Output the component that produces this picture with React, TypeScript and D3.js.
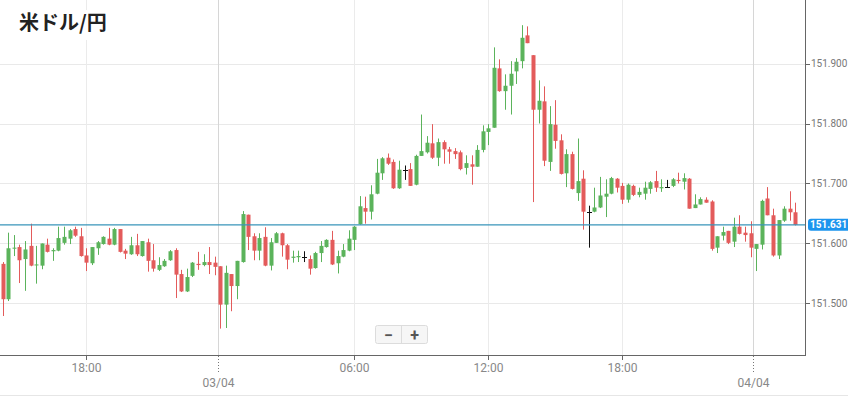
import * as d3 from 'd3'

// 15分足 米ドル/円
const startTime = new Date(2024, 3, 2, 14, 15)
const stepMinutes = 15

const opens = [
  151.566, 151.507, 151.592, 151.594, 151.574, 151.596, 151.564, 151.563, 151.598, 151.587,
  151.588, 151.601, 151.608, 151.624, 151.612, 151.580, 151.567, 151.592, 151.599, 151.608,
  151.598, 151.624, 151.588, 151.582, 151.597, 151.579, 151.602, 151.572, 151.556, 151.562,
  151.572, 151.589, 151.549, 151.520, 151.546, 151.566, 151.564, 151.569, 151.568, 151.562,
  151.498, 151.549, 151.529, 151.569, 151.648, 151.612, 151.588, 151.611, 151.563, 151.601,
  151.617, 151.597, 151.576, 151.577, 151.578, 151.574, 151.559, 151.584, 151.594, 151.606,
  151.567, 151.578, 151.588, 151.606, 151.632, 151.659, 151.653, 151.683, 151.717, 151.743,
  151.736, 151.692, 151.722, 151.724, 151.698, 151.746, 151.752, 151.767, 151.743, 151.769,
  151.757, 151.754, 151.752, 151.726, 151.732, 151.728, 151.756, 151.786, 151.793, 151.892,
  151.854, 151.863, 151.887, 151.904, 151.947, 151.914, 151.823, 151.837, 151.736, 151.798,
  151.772, 151.717, 151.749, 151.684, 151.708, 151.653, 151.653, 151.660, 151.678, 151.683,
  151.708, 151.696, 151.673, 151.696, 151.681, 151.683, 151.691, 151.704, 151.692, 151.694,
  151.696, 151.706, 151.703, 151.708, 151.659, 151.665, 151.673, 151.670, 151.593, 151.613,
  151.621, 151.603, 151.628, 151.618, 151.617, 151.591, 151.598, 151.675, 151.647, 151.580,
  151.638, 151.658, 151.652,
]

const highs = [
  151.569, 151.618, 151.614, 151.598, 151.604, 151.633, 151.596, 151.600, 151.608, 151.592,
  151.628, 151.628, 151.624, 151.628, 151.626, 151.592, 151.594, 151.604, 151.612, 151.626,
  151.626, 151.624, 151.591, 151.611, 151.616, 151.604, 151.608, 151.599, 151.577, 151.574,
  151.589, 151.592, 151.556, 151.558, 151.569, 151.586, 151.582, 151.594, 151.578, 151.562,
  151.563, 151.549, 151.571, 151.654, 151.648, 151.617, 151.617, 151.627, 151.609, 151.619,
  151.618, 151.599, 151.588, 151.588, 151.587, 151.580, 151.586, 151.604, 151.607, 151.621,
  151.588, 151.599, 151.622, 151.629, 151.679, 151.678, 151.697, 151.741, 151.744, 151.750,
  151.740, 151.738, 151.730, 151.734, 151.748, 151.815, 151.779, 151.799, 151.775, 151.772,
  151.761, 151.759, 151.755, 151.747, 151.747, 151.764, 151.797, 151.799, 151.927, 151.907,
  151.882, 151.904, 151.909, 151.964, 151.962, 151.914, 151.872, 151.862, 151.829, 151.839,
  151.782, 151.757, 151.753, 151.775, 151.722, 151.663, 151.693, 151.711, 151.707, 151.711,
  151.709, 151.701, 151.700, 151.698, 151.693, 151.703, 151.704, 151.721, 151.707, 151.706,
  151.709, 151.718, 151.717, 151.709, 151.682, 151.677, 151.677, 151.672, 151.612, 151.628,
  151.621, 151.643, 151.647, 151.628, 151.637, 151.599, 151.673, 151.694, 151.658, 151.639,
  151.662, 151.687, 151.668,
]

const lows = [
  151.479, 151.504, 151.579, 151.534, 151.521, 151.562, 151.533, 151.557, 151.585, 151.571,
  151.587, 151.598, 151.599, 151.611, 151.578, 151.554, 151.564, 151.581, 151.598, 151.597,
  151.597, 151.585, 151.574, 151.581, 151.579, 151.578, 151.553, 151.553, 151.554, 151.561,
  151.571, 151.509, 151.519, 151.519, 151.544, 151.556, 151.562, 151.549, 151.547, 151.458,
  151.459, 151.487, 151.507, 151.568, 151.589, 151.572, 151.572, 151.562, 151.555, 151.601,
  151.578, 151.557, 151.568, 151.569, 151.569, 151.548, 151.558, 151.569, 151.593, 151.564,
  151.550, 151.577, 151.587, 151.589, 151.631, 151.633, 151.640, 151.682, 151.706, 151.731,
  151.691, 151.691, 151.706, 151.696, 151.697, 151.746, 151.750, 151.741, 151.729, 151.733,
  151.733, 151.741, 151.722, 151.715, 151.698, 151.728, 151.752, 151.764, 151.793, 151.853,
  151.823, 151.815, 151.866, 151.892, 151.934, 151.669, 151.800, 151.729, 151.721, 151.758,
  151.715, 151.694, 151.690, 151.671, 151.623, 151.593, 151.652, 151.659, 151.644, 151.682,
  151.685, 151.666, 151.668, 151.679, 151.677, 151.673, 151.683, 151.686, 151.686, 151.693,
  151.694, 151.700, 151.690, 151.658, 151.659, 151.665, 151.668, 151.588, 151.584, 151.605,
  151.599, 151.594, 151.615, 151.603, 151.577, 151.554, 151.590, 151.647, 151.578, 151.574,
  151.636, 151.638, 151.630,
]

const closes = [
  151.507, 151.592, 151.593, 151.572, 151.590, 151.563, 151.565, 151.600, 151.586, 151.589,
  151.609, 151.611, 151.622, 151.613, 151.579, 151.568, 151.594, 151.602, 151.611, 151.598,
  151.624, 151.586, 151.583, 151.597, 151.582, 151.604, 151.571, 151.558, 151.564, 151.571,
  151.587, 151.548, 151.520, 151.544, 151.568, 151.564, 151.569, 151.564, 151.561, 151.498,
  151.551, 151.529, 151.571, 151.649, 151.611, 151.588, 151.609, 151.563, 151.602, 151.617,
  151.597, 151.573, 151.578, 151.579, 151.578, 151.558, 151.584, 151.596, 151.606, 151.565,
  151.579, 151.589, 151.608, 151.628, 151.662, 151.653, 151.682, 151.718, 151.742, 151.733,
  151.692, 151.723, 151.722, 151.696, 151.746, 151.754, 151.768, 151.743, 151.769, 151.757,
  151.753, 151.749, 151.724, 151.734, 151.728, 151.756, 151.787, 151.792, 151.893, 151.854,
  151.863, 151.883, 151.903, 151.943, 151.934, 151.823, 151.838, 151.738, 151.799, 151.771,
  151.716, 151.749, 151.691, 151.704, 151.653, 151.653, 151.660, 151.680, 151.683, 151.709,
  151.693, 151.673, 151.698, 151.681, 151.686, 151.693, 151.702, 151.693, 151.694, 151.694,
  151.707, 151.704, 151.709, 151.658, 151.665, 151.674, 151.668, 151.591, 151.612, 151.619,
  151.601, 151.628, 151.616, 151.614, 151.593, 151.599, 151.671, 151.647, 151.580, 151.639,
  151.658, 151.652, 151.631,
]

const lastPrice = 151.631
const priceTicks = [151.5, 151.6, 151.7, 151.8, 151.9]
const timeTicks = [
  new Date(2024, 3, 2, 18, 0),
  new Date(2024, 3, 3, 0, 0),
  new Date(2024, 3, 3, 6, 0),
  new Date(2024, 3, 3, 12, 0),
  new Date(2024, 3, 3, 18, 0),
  new Date(2024, 3, 4, 0, 0),
]

const W = 848
const H = 396
const plot = { left: 0, top: 0, right: 805, bottom: 355 }
const UP = '#5bb35b'
const DOWN = '#e35b5b'

export default function App() {
  const x = d3.scaleTime()
    .domain([new Date(2024, 3, 2, 14, 8), new Date(2024, 3, 4, 2, 11)])
    .range([plot.left, plot.right])
  const y = d3.scaleLinear()
    .domain([151.414, 152.006])
    .range([plot.bottom, plot.top])

  const candles = opens.map((o, i) => ({
    t: d3.timeMinute.offset(startTime, i * stepMinutes),
    o, h: highs[i], l: lows[i], c: closes[i],
  }))
  // date lines sit half a candle left of the midnight candle
  const halfStep = (x(d3.timeMinute.offset(startTime, stepMinutes)) - x(startTime)) / 2
  const isDay = (d: Date) => d.getHours() === 0
  const fmtTime = d3.timeFormat('%H:%M')
  const fmtDay = d3.timeFormat('%d/%m')
  const bodyW = 4

  return (
    <svg width={W} height={H} style={{ position: 'absolute', left: 0, top: 0, background: '#fff' }}
      fontFamily="Roboto, 'Noto Sans', sans-serif">
      {/* grid */}
      {priceTicks.map(p => (
        <line key={p} x1={plot.left} x2={plot.right} y1={Math.round(y(p)) + 0.5} y2={Math.round(y(p)) + 0.5}
          stroke="#e9e9e9" />
      ))}
      {timeTicks.map(t => {
        const gx = Math.round(x(t) - (isDay(t) ? halfStep : 0)) + 0.5
        return (
          <line key={+t} x1={gx} x2={gx} y1={plot.top} y2={plot.bottom}
            stroke={isDay(t) ? '#d6d6d6' : '#ebebeb'} />
        )
      })}

      {/* candles */}
      {candles.map((d, i) => {
        const cx = Math.round(x(d.t))
        const color = d.c > d.o ? UP : d.c < d.o ? DOWN : '#111'
        const top = y(Math.max(d.o, d.c))
        const bot = y(Math.min(d.o, d.c))
        return (
          <g key={i}>
            <line x1={cx + 0.5} x2={cx + 0.5} y1={y(d.h)} y2={y(d.l)} stroke={color} strokeWidth={1} />
            {d.c === d.o
              ? <line x1={cx - 2} x2={cx + 3} y1={Math.round(top) + 0.5} y2={Math.round(top) + 0.5} stroke={color} />
              : <rect x={cx - 1.5} width={bodyW} y={top} height={Math.max(1, bot - top)} fill={color} />}
          </g>
        )
      })}

      {/* last price line */}
      <line x1={plot.left} x2={plot.right} y1={y(lastPrice)} y2={y(lastPrice)} stroke="#3895ba" strokeWidth={1.2} />

      {/* axes */}
      <line x1={plot.right + 0.5} x2={plot.right + 0.5} y1={plot.top} y2={plot.bottom} stroke="#666" />
      <line x1={plot.left} x2={plot.right + 1} y1={plot.bottom + 0.5} y2={plot.bottom + 0.5} stroke="#666" />
      {priceTicks.map(p => (
        <g key={p}>
          <line x1={plot.right + 1} x2={plot.right + 5} y1={Math.round(y(p)) + 0.5} y2={Math.round(y(p)) + 0.5} stroke="#666" />
          <text x={plot.right + 6} y={y(p)} dy="0.35em" fontSize={10} fill="#777">{p.toFixed(3)}</text>
        </g>
      ))}
      {timeTicks.map(t => {
        const gx = Math.round(x(t) - (isDay(t) ? halfStep : 0)) + 0.5
        return (
          <g key={+t}>
            {isDay(t)
              ? <line x1={gx} x2={gx} y1={plot.bottom + 1} y2={plot.bottom + 19} stroke="#777" strokeDasharray="1,2" />
              : <line x1={gx} x2={gx} y1={plot.bottom + 1} y2={plot.bottom + 5} stroke="#666" />}
            {!isDay(t) && (
              <text x={gx} y={plot.bottom + 17} textAnchor="middle" fontSize={12} fill="#888">{fmtTime(t)}</text>
            )}
            {isDay(t) && (
              <text x={gx} y={plot.bottom + 32} textAnchor="middle" fontSize={12} fill="#888">{fmtDay(t)}</text>
            )}
          </g>
        )
      })}

      {/* last price label */}
      <rect x={plot.right + 3} y={y(lastPrice) - 6} width={50} height={12} rx={3} fill="#1d95ee" />
      <text x={plot.right + 5} y={y(lastPrice)} dy="0.35em" fontSize={10} fontWeight="bold" fill="#fff">
        {lastPrice.toFixed(3)}
      </text>

      {/* zoom buttons */}
      <g>
        <rect x={375.5} y={325.5} width={52} height={18} rx={2} fill="#f6f6f6" stroke="#dcdcdc" />
        <line x1={401.5} x2={401.5} y1={326} y2={343} stroke="#dcdcdc" />
        <text x={388.5} y={335} dy="0.35em" textAnchor="middle" fontSize={16} fontWeight="bold" fill="#555">−</text>
        <text x={414.5} y={335} dy="0.35em" textAnchor="middle" fontSize={16} fontWeight="bold" fill="#555">+</text>
      </g>

      {/* title */}
      <rect x={14} y={10} width={96} height={30} fill="#fff" />
      <text x={19} y={30} fontSize={20} fontWeight="bold" fill="#222"
        fontFamily="'Noto Sans CJK JP', 'Noto Sans', sans-serif">米ドル/円</text>

      <line x1={0} x2={W} y1={395.5} y2={395.5} stroke="#e6e6e6" />
    </svg>
  )
}
